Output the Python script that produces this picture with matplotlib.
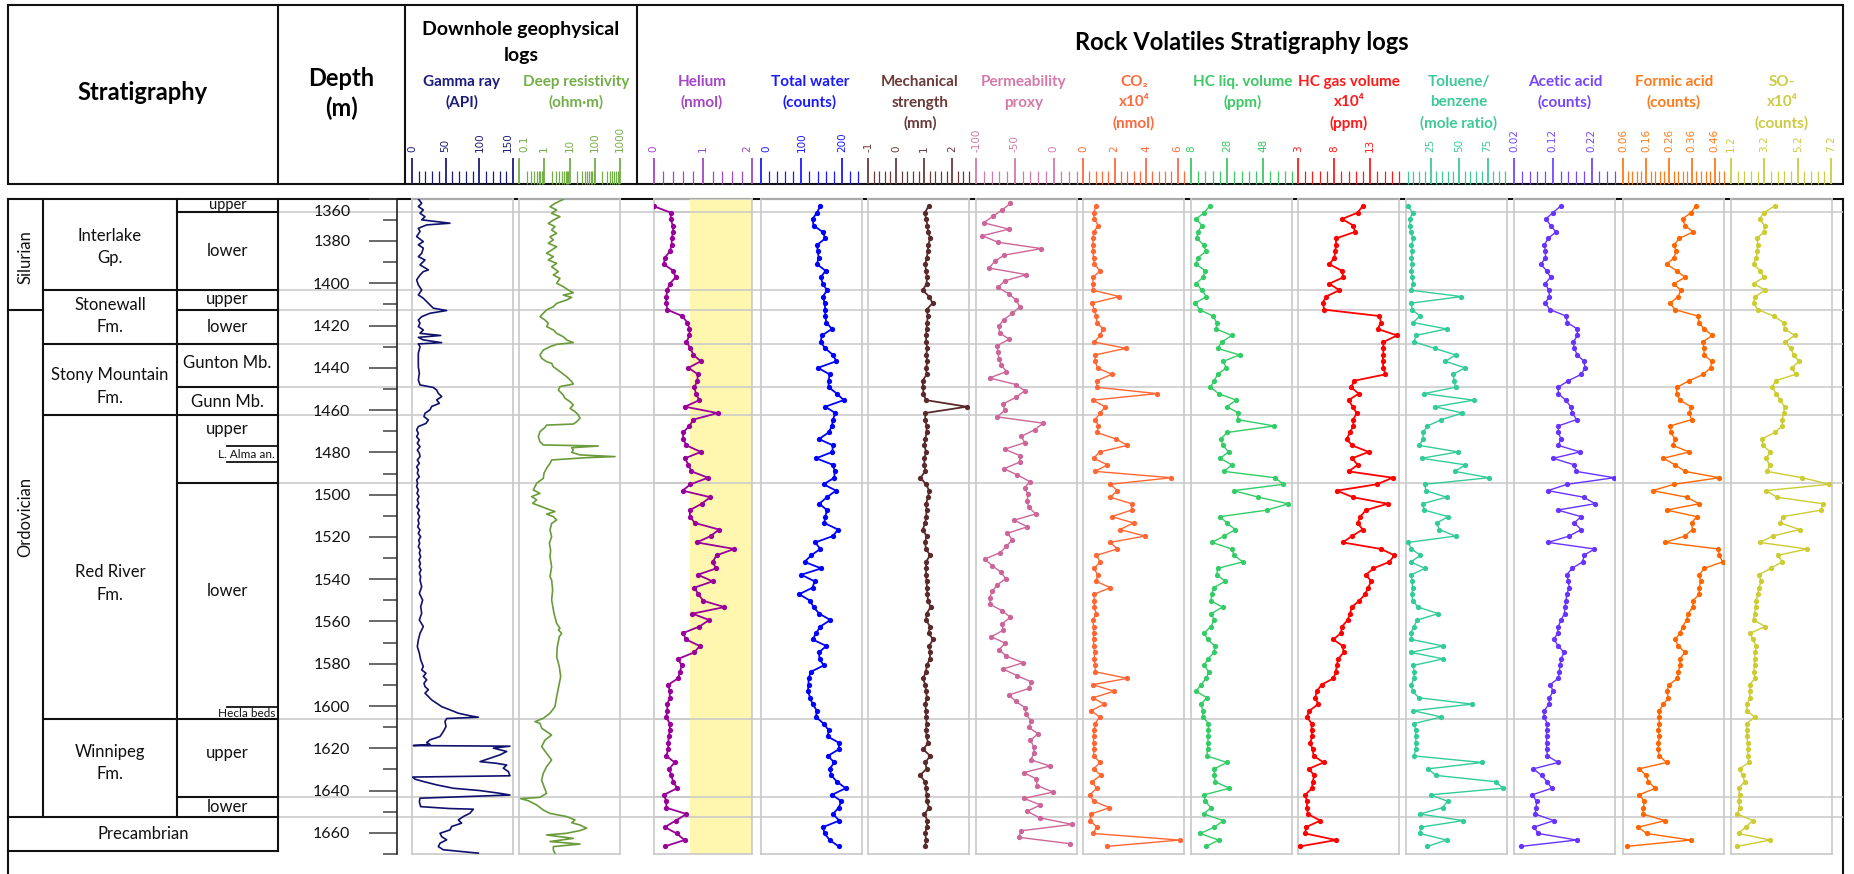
import matplotlib
matplotlib.use("Agg")
import matplotlib.pyplot as plt
from matplotlib.patches import Rectangle
from matplotlib.transforms import ScaledTranslation
from matplotlib.ticker import FixedLocator, FixedFormatter, MultipleLocator, LogLocator, NullFormatter

plt.rcParams['font.family'] = ['Lato', 'DejaVu Sans']

# ------------------------------------------------------------------ data
sample_depth = [
    1363.5, 1366.6, 1369.6, 1372.7, 1375.7, 1378.8, 1381.9, 1384.9, 1388.0, 1391.0,
    1394.1, 1397.2, 1400.2, 1403.3, 1406.3, 1409.4, 1412.5, 1415.5, 1418.6, 1421.6,
    1424.7, 1427.8, 1430.8, 1433.9, 1436.9, 1440.0, 1443.1, 1446.1, 1449.2, 1452.2,
    1455.3, 1458.4, 1461.4, 1464.5, 1467.5, 1470.6, 1473.7, 1476.7, 1479.8, 1482.8,
    1485.9, 1489.0, 1492.0, 1495.1, 1498.1, 1501.2, 1504.3, 1507.3, 1510.4, 1513.4,
    1516.5, 1519.6, 1522.6, 1525.7, 1528.7, 1531.8, 1534.9, 1537.9, 1541.0, 1544.0,
    1547.1, 1550.2, 1553.2, 1556.3, 1559.3, 1562.4, 1565.5, 1568.5, 1571.6, 1574.6,
    1577.7, 1580.8, 1583.8, 1586.9, 1589.9, 1593.0, 1596.1, 1599.1, 1602.2, 1605.2,
    1608.3, 1611.4, 1614.4, 1617.5, 1620.5, 1623.6, 1626.7, 1629.7, 1632.8, 1635.8,
    1638.9, 1642.0, 1645.0, 1648.1, 1651.1, 1654.2, 1657.3, 1660.3, 1663.4, 1666.4]
perm_depth_shift = -1.3

helium = [
    0.00, 0.35, 0.35, 0.39, 0.40, 0.37, 0.37, 0.33, 0.23, 0.21,
    0.40, 0.45, 0.33, 0.28, 0.26, 0.26, 0.28, 0.58, 0.69, 0.73,
    0.73, 0.67, 0.75, 0.81, 0.96, 0.71, 0.90, 0.89, 0.83, 0.86,
    0.93, 0.64, 1.30, 0.81, 0.73, 0.60, 0.60, 0.67, 0.96, 0.64,
    0.71, 0.77, 1.11, 0.75, 0.59, 1.15, 0.98, 0.74, 0.74, 0.84,
    1.33, 1.16, 0.88, 1.64, 1.28, 1.20, 1.27, 0.90, 1.20, 0.83,
    0.91, 1.01, 1.44, 0.79, 1.13, 0.93, 0.60, 0.66, 0.94, 0.83,
    0.50, 0.57, 0.54, 0.50, 0.30, 0.33, 0.33, 0.28, 0.28, 0.26,
    0.33, 0.33, 0.31, 0.30, 0.30, 0.26, 0.43, 0.32, 0.36, 0.40,
    0.48, 0.21, 0.26, 0.26, 0.67, 0.45, 0.23, 0.47, 0.63, 0.23]
helium_window = [0.75, 2.0]

total_water = [
    146.7, 138.4, 127.6, 130.0, 152.5, 159.1, 138.4, 140.9, 142.5, 138.4,
    160.0, 147.5, 153.3, 163.2, 153.3, 157.4, 159.1, 159.1, 161.6, 175.6,
    150.8, 147.5, 159.1, 178.1, 186.4, 140.9, 169.9, 167.4, 167.4, 188.0,
    204.6, 159.1, 183.9, 178.1, 175.6, 167.4, 143.4, 178.1, 176.4, 136.7,
    178.1, 182.3, 181.4, 155.0, 185.5, 163.2, 144.2, 163.2, 159.1, 156.6,
    190.5, 178.1, 134.2, 146.7, 124.3, 107.8, 149.1, 99.5, 132.6, 127.6,
    94.5, 121.8, 130.0, 144.2, 171.5, 146.7, 136.7, 127.6, 161.6, 143.4,
    145.0, 155.0, 123.5, 117.7, 117.7, 116.0, 121.8, 127.6, 138.4, 135.9,
    155.0, 167.4, 164.9, 193.8, 192.2, 165.7, 181.4, 169.9, 174.0, 188.0,
    209.5, 175.6, 198.8, 192.2, 178.1, 193.8, 153.3, 157.4, 169.9, 192.2]

mech_strength = [
    1.16, 1.03, 1.07, 1.12, 1.14, 1.22, 1.14, 1.14, 1.09, 1.04,
    1.07, 1.10, 1.09, 0.95, 1.18, 1.30, 1.09, 1.14, 1.10, 1.09,
    1.07, 1.07, 1.12, 1.07, 1.12, 1.07, 1.09, 0.95, 0.97, 0.97,
    1.07, 2.52, 1.04, 1.04, 1.09, 1.09, 1.04, 1.01, 1.07, 1.01,
    1.01, 1.04, 0.87, 1.07, 1.18, 1.14, 1.07, 1.09, 1.07, 1.04,
    0.95, 1.09, 1.03, 1.07, 1.21, 1.07, 1.07, 1.07, 1.09, 1.10,
    1.12, 1.14, 1.23, 1.09, 1.07, 1.21, 1.16, 1.32, 1.18, 1.21,
    1.21, 1.09, 1.07, 0.96, 1.04, 1.07, 1.10, 1.04, 1.07, 1.07,
    1.09, 1.07, 1.09, 1.14, 0.97, 1.22, 1.04, 1.09, 0.85, 1.04,
    1.07, 1.09, 1.09, 1.18, 1.01, 1.12, 1.09, 1.04, 1.07, 1.04]

permeability = [
    -55.8, -66.1, -78.1, -90.2, -57.5, -91.9, -71.7, -15.7, -63.9, -76.0,
    -83.3, -35.1, -63.1, -71.7, -57.9, -48.0, -43.7, -53.2, -64.4, -70.8,
    -69.5, -57.5, -72.6, -71.7, -70.8, -67.4, -60.9, -82.5, -48.9, -37.3,
    -48.9, -65.2, -63.1, -72.6, -13.7, -24.4, -41.6, -37.3, -63.1, -43.7,
    -43.7, -63.9, -46.8, -30.8, -37.3, -33.0, -34.3, -32.2, -23.1, -51.0,
    -33.8, -59.7, -53.2, -60.9, -68.7, -88.9, -79.0, -68.3, -61.8, -72.6,
    -79.4, -82.5, -81.6, -66.1, -55.8, -66.5, -65.2, -80.3, -62.2, -70.4,
    -60.9, -39.4, -65.2, -47.2, -28.7, -32.2, -57.5, -48.9, -36.4, -36.0,
    -28.7, -32.2, -20.1, -30.0, -25.7, -25.3, -29.5, -5.0, -38.6, -22.2,
    -21.4, -0.8, -38.1, -17.0, -34.3, -17.9, 24.2, -41.6, -45.0, 20.8]

co2 = [
    0.84, 0.67, 0.71, 0.98, 0.67, 0.63, 0.63, 0.63, 0.67, 0.71,
    1.09, 0.63, 0.63, 0.63, 2.30, 0.56, 0.71, 0.84, 0.88, 1.26,
    1.09, 0.71, 2.72, 0.77, 0.77, 0.92, 1.82, 0.88, 0.88, 4.69,
    0.63, 1.40, 1.09, 0.77, 0.98, 0.88, 2.09, 2.81, 1.05, 0.67,
    1.55, 0.77, 5.60, 1.72, 2.18, 1.72, 3.08, 3.08, 1.82, 3.20,
    2.35, 3.92, 1.72, 2.18, 0.84, 1.09, 0.71, 0.92, 0.84, 1.72,
    0.71, 0.71, 0.71, 0.84, 0.63, 0.67, 0.67, 0.67, 0.67, 0.73,
    0.71, 0.77, 0.77, 2.81, 0.63, 1.97, 0.63, 1.34, 0.52, 1.05,
    0.77, 0.71, 0.67, 0.67, 0.71, 0.67, 1.09, 0.67, 1.13, 0.56,
    0.88, 0.42, 0.67, 1.67, 0.50, 0.46, 0.88, 0.63, 6.12, 1.51]

hc_liquid = [
    18.3, 15.3, 10.9, 14.1, 11.7, 11.3, 15.0, 16.3, 11.7, 10.9,
    15.9, 14.6, 10.9, 14.1, 16.5, 10.4, 12.8, 20.1, 22.3, 22.0,
    30.6, 25.1, 22.7, 34.9, 26.0, 27.5, 22.7, 20.9, 18.7, 23.3,
    33.0, 27.9, 34.3, 33.8, 54.2, 27.9, 24.6, 25.7, 28.8, 24.2,
    30.6, 26.4, 54.6, 59.2, 31.6, 45.4, 61.9, 50.3, 24.2, 27.9,
    32.5, 26.4, 19.6, 30.6, 31.9, 36.7, 22.7, 22.3, 27.0, 20.5,
    19.6, 19.0, 25.5, 19.2, 20.9, 19.0, 15.3, 17.2, 21.1, 20.9,
    17.4, 15.3, 17.9, 16.5, 13.5, 10.9, 16.8, 13.5, 14.6, 14.6,
    17.7, 17.7, 17.4, 17.4, 17.2, 16.8, 27.9, 20.9, 20.9, 21.4,
    29.3, 15.3, 15.9, 19.0, 15.0, 26.0, 20.9, 13.1, 23.3, 16.5]

hc_gas = [
    11.96, 11.27, 9.10, 10.67, 10.90, 8.27, 8.27, 8.17, 8.03, 7.34,
    9.10, 9.28, 7.34, 8.73, 6.88, 6.42, 6.65, 14.28, 14.51, 14.04,
    16.73, 14.83, 14.83, 14.83, 14.74, 14.83, 15.11, 10.81, 10.35, 11.41,
    10.02, 10.58, 11.13, 10.67, 10.67, 10.21, 9.74, 10.49, 12.80, 10.49,
    11.27, 10.02, 16.12, 13.95, 8.40, 10.58, 15.43, 12.43, 11.64, 11.27,
    11.96, 10.49, 9.19, 14.51, 16.36, 15.66, 13.44, 12.43, 13.12, 12.75,
    12.29, 11.50, 10.44, 10.21, 9.88, 9.10, 8.96, 7.90, 9.19, 9.33,
    8.59, 8.36, 8.27, 7.90, 6.28, 5.58, 5.40, 5.82, 4.57, 4.24,
    4.89, 4.89, 4.94, 4.71, 5.03, 5.17, 6.55, 4.47, 5.26, 5.03,
    4.94, 4.01, 4.24, 4.24, 4.38, 6.09, 4.10, 4.01, 8.27, 3.27]

toluene_benzene = [
    5.4, 9.2, 6.9, 6.9, 7.5, 9.8, 8.3, 8.9, 8.3, 8.9,
    8.3, 8.9, 9.8, 7.7, 52.1, 8.3, 8.9, 15.6, 9.8, 39.0,
    12.1, 10.7, 28.8, 46.9, 38.1, 55.0, 44.8, 45.7, 46.9, 19.4,
    62.9, 28.8, 53.0, 34.6, 22.3, 18.5, 18.5, 15.0, 49.2, 17.1,
    55.6, 46.3, 76.3, 20.0, 20.9, 39.0, 18.0, 19.4, 40.4, 30.5,
    32.6, 46.9, 5.4, 8.3, 16.2, 7.7, 20.0, 8.3, 8.9, 9.2,
    8.9, 9.2, 14.2, 31.7, 13.3, 10.4, 7.7, 8.3, 36.1, 7.7,
    36.1, 9.8, 10.7, 10.4, 8.3, 9.2, 14.8, 61.5, 9.8, 34.6,
    10.4, 12.1, 12.1, 12.1, 12.1, 10.4, 70.2, 22.9, 29.4, 82.2,
    88.3, 25.0, 39.9, 35.5, 15.6, 53.6, 16.5, 15.6, 39.0, 22.3]

acetic_acid = [
    0.140, 0.120, 0.102, 0.114, 0.128, 0.108, 0.098, 0.101, 0.101, 0.089,
    0.104, 0.114, 0.100, 0.110, 0.111, 0.100, 0.113, 0.154, 0.157, 0.183,
    0.183, 0.173, 0.175, 0.183, 0.200, 0.203, 0.193, 0.160, 0.134, 0.134,
    0.153, 0.166, 0.170, 0.181, 0.134, 0.134, 0.141, 0.134, 0.190, 0.121,
    0.175, 0.180, 0.278, 0.157, 0.107, 0.199, 0.229, 0.132, 0.193, 0.175,
    0.193, 0.162, 0.108, 0.227, 0.200, 0.197, 0.169, 0.156, 0.160, 0.162,
    0.156, 0.154, 0.151, 0.150, 0.141, 0.134, 0.132, 0.123, 0.134, 0.149,
    0.141, 0.138, 0.137, 0.134, 0.113, 0.121, 0.111, 0.110, 0.098, 0.097,
    0.106, 0.104, 0.104, 0.104, 0.104, 0.106, 0.134, 0.070, 0.091, 0.105,
    0.117, 0.067, 0.078, 0.077, 0.074, 0.123, 0.071, 0.083, 0.181, 0.038]

formic_acid = [
    0.378, 0.355, 0.320, 0.330, 0.366, 0.305, 0.282, 0.291, 0.282, 0.250,
    0.294, 0.330, 0.282, 0.311, 0.301, 0.265, 0.287, 0.385, 0.392, 0.413,
    0.449, 0.407, 0.413, 0.413, 0.446, 0.442, 0.410, 0.349, 0.294, 0.294,
    0.308, 0.356, 0.349, 0.359, 0.265, 0.268, 0.287, 0.276, 0.349, 0.236,
    0.287, 0.330, 0.479, 0.282, 0.189, 0.337, 0.392, 0.250, 0.381, 0.359,
    0.363, 0.330, 0.243, 0.475, 0.479, 0.494, 0.414, 0.392, 0.398, 0.392,
    0.391, 0.366, 0.363, 0.344, 0.337, 0.320, 0.308, 0.287, 0.301, 0.330,
    0.308, 0.308, 0.301, 0.297, 0.262, 0.250, 0.258, 0.236, 0.218, 0.217,
    0.218, 0.214, 0.218, 0.214, 0.214, 0.218, 0.250, 0.131, 0.160, 0.171,
    0.200, 0.131, 0.153, 0.149, 0.146, 0.243, 0.127, 0.163, 0.355, 0.076]

so_x1e4 = [
    3.81, 3.17, 2.91, 3.21, 3.17, 2.75, 2.81, 2.77, 2.71, 2.55,
    2.95, 3.17, 2.55, 3.25, 2.65, 2.55, 2.81, 3.75, 4.35, 4.41,
    5.01, 4.45, 4.77, 4.95, 5.27, 4.85, 5.07, 3.87, 3.67, 3.91,
    4.15, 4.41, 4.35, 4.27, 4.27, 3.81, 3.05, 3.11, 3.55, 3.31,
    3.51, 3.37, 5.47, 7.10, 3.31, 3.95, 6.70, 6.61, 4.31, 4.15,
    5.31, 3.71, 2.91, 5.75, 4.01, 4.27, 3.57, 2.87, 3.01, 2.87,
    2.81, 2.71, 2.67, 2.61, 2.55, 3.25, 2.35, 2.51, 2.71, 2.65,
    2.61, 2.61, 2.57, 2.65, 2.31, 2.35, 2.31, 2.17, 2.15, 2.61,
    2.15, 2.15, 2.15, 2.21, 2.21, 2.21, 2.27, 1.71, 1.91, 2.01,
    1.67, 1.71, 1.67, 1.71, 1.58, 2.51, 2.07, 1.66, 3.55, 1.56]

gamma_depth = [
    1360.1, 1362.2, 1363.7, 1365.3, 1366.9, 1368.5, 1370.0, 1371.6, 1372.4, 1374.0,
    1375.5, 1377.9, 1380.3, 1381.8, 1383.4, 1385.8, 1387.4, 1389.0, 1391.3, 1393.7,
    1394.5, 1396.1, 1398.4, 1400.8, 1403.2, 1405.5, 1407.1, 1408.7, 1410.3, 1411.8,
    1412.9, 1414.2, 1415.8, 1417.4, 1418.9, 1420.5, 1422.1, 1423.7, 1424.7, 1425.6,
    1426.8, 1428.1, 1428.7, 1430.0, 1433.1, 1436.3, 1439.5, 1442.6, 1445.8, 1448.1,
    1449.3, 1450.5, 1452.1, 1453.6, 1455.2, 1456.8, 1458.3, 1459.9, 1461.5, 1463.1,
    1464.7, 1466.3, 1467.8, 1469.4, 1471.0, 1472.6, 1474.1, 1475.7, 1477.3, 1478.9,
    1480.4, 1482.0, 1483.6, 1485.2, 1486.8, 1488.3, 1489.9, 1491.5, 1493.1, 1494.6,
    1496.2, 1497.8, 1499.4, 1500.9, 1502.5, 1504.1, 1505.7, 1507.3, 1508.8, 1510.4,
    1512.0, 1513.6, 1515.2, 1516.7, 1518.3, 1519.9, 1521.5, 1523.0, 1524.6, 1526.2,
    1527.7, 1529.3, 1530.9, 1532.5, 1534.1, 1535.6, 1537.2, 1538.8, 1540.4, 1543.6,
    1546.7, 1549.9, 1553.0, 1556.1, 1559.3, 1562.4, 1565.6, 1568.7, 1571.9, 1575.0,
    1578.2, 1581.3, 1582.9, 1584.5, 1586.0, 1587.6, 1589.2, 1590.8, 1592.3, 1593.9,
    1595.5, 1597.1, 1598.7, 1600.3, 1601.8, 1603.4, 1604.6, 1605.3, 1605.9, 1607.3,
    1609.7, 1612.1, 1614.4, 1616.0, 1617.3, 1618.2, 1618.7, 1619.0, 1619.9, 1621.5,
    1623.1, 1624.7, 1626.3, 1627.1, 1627.9, 1629.4, 1631.0, 1633.0, 1633.6, 1634.6,
    1635.7, 1637.3, 1638.9, 1640.0, 1641.3, 1642.1, 1642.8, 1643.6, 1645.2, 1647.6,
    1648.5, 1648.8, 1650.7, 1652.3, 1653.9, 1655.4, 1657.0, 1658.6, 1660.2, 1661.8,
    1663.3, 1664.9, 1666.5, 1668.0, 1669.6]
gamma_api = [
    9.4, 14.4, 9.4, 16.8, 11.9, 19.3, 14.4, 56.4, 21.8, 9.4,
    11.9, 6.9, 16.8, 9.4, 16.8, 14.4, 9.4, 19.3, 11.9, 24.3,
    16.8, 11.9, 6.9, 9.4, 14.4, 9.4, 16.8, 21.8, 26.7, 31.7,
    51.5, 26.7, 14.4, 9.4, 11.9, 9.4, 16.8, 11.9, 42.6, 9.4,
    16.8, 44.1, 9.4, 11.9, 9.4, 9.4, 9.4, 10.9, 9.4, 11.9,
    31.7, 36.6, 39.1, 44.1, 36.6, 40.6, 29.2, 26.7, 19.3, 17.8,
    24.3, 20.8, 9.4, 6.9, 9.4, 6.9, 10.9, 7.9, 11.9, 7.9,
    10.9, 11.9, 7.9, 10.9, 6.9, 9.4, 7.9, 10.9, 6.9, 8.4,
    6.9, 9.4, 7.4, 10.4, 7.9, 9.9, 6.9, 10.9, 8.4, 11.4,
    8.9, 10.4, 8.4, 11.9, 9.4, 12.9, 9.9, 11.4, 9.4, 12.4,
    10.9, 12.9, 10.4, 12.4, 10.9, 13.4, 10.9, 12.9, 11.9, 14.4,
    10.9, 15.8, 12.9, 14.4, 10.9, 16.8, 11.9, 9.4, 7.9, 10.9,
    12.9, 16.8, 14.4, 20.8, 16.8, 21.8, 17.8, 19.3, 24.3, 19.3,
    24.3, 29.2, 36.6, 44.1, 56.4, 68.8, 86.1, 98.5, 51.5, 49.0,
    50.5, 46.5, 41.6, 26.7, 21.8, 26.7, 2.0, 145.5, 120.8, 140.6,
    130.7, 115.8, 101.0, 125.7, 140.6, 135.6, 143.1, 145.5, 1.0, 4.5,
    16.8, 36.6, 61.4, 101.0, 130.7, 145.5, 81.2, 11.9, 10.9, 12.9,
    56.4, 91.1, 86.1, 76.2, 68.8, 73.7, 58.9, 56.4, 41.6, 44.1,
    51.5, 41.6, 39.1, 46.5, 98.5]

resistivity_depth = [
    1360.3, 1362.2, 1363.8, 1365.3, 1366.9, 1368.5, 1370.1, 1371.7, 1373.2, 1374.8,
    1376.4, 1378.0, 1379.5, 1381.1, 1382.7, 1384.3, 1385.8, 1387.4, 1389.0, 1390.6,
    1392.2, 1394.5, 1396.1, 1397.7, 1400.0, 1401.6, 1403.2, 1404.5, 1405.6, 1406.7,
    1407.9, 1409.5, 1411.1, 1412.6, 1414.2, 1415.8, 1417.4, 1419.0, 1420.5, 1422.1,
    1423.7, 1425.3, 1426.8, 1428.1, 1428.9, 1430.0, 1431.6, 1433.9, 1435.5, 1437.1,
    1437.9, 1439.5, 1441.8, 1444.2, 1446.5, 1447.7, 1448.9, 1450.5, 1452.9, 1454.4,
    1456.0, 1457.6, 1459.2, 1460.7, 1462.3, 1463.9, 1465.5, 1466.6, 1467.1, 1468.2,
    1470.2, 1472.6, 1475.0, 1476.5, 1477.0, 1477.8, 1478.9, 1480.0, 1481.2, 1482.0,
    1482.5, 1483.6, 1485.2, 1487.5, 1489.9, 1492.3, 1494.6, 1496.2, 1497.8, 1499.4,
    1500.9, 1502.5, 1504.1, 1505.7, 1506.9, 1508.0, 1509.2, 1510.4, 1512.0, 1513.6,
    1516.7, 1519.9, 1523.0, 1526.2, 1529.3, 1534.1, 1538.8, 1540.4, 1545.1, 1549.8,
    1556.1, 1560.9, 1563.2, 1564.0, 1565.6, 1567.2, 1571.9, 1576.6, 1581.4, 1586.1,
    1590.8, 1595.6, 1600.3, 1603.4, 1605.8, 1607.4, 1608.2, 1610.5, 1613.7, 1616.1,
    1619.2, 1622.4, 1625.5, 1628.7, 1631.8, 1635.0, 1638.1, 1641.3, 1643.2, 1643.8,
    1644.8, 1646.8, 1649.2, 1650.8, 1652.3, 1653.9, 1655.2, 1656.3, 1657.8, 1658.9,
    1660.2, 1661.0, 1662.6, 1664.1, 1665.3, 1666.5, 1668.1, 1669.7]
resistivity_ohmm = [
    5.69, 2.66, 1.69, 3.10, 1.96, 4.20, 2.29, 1.45, 2.66, 1.96,
    3.10, 1.69, 2.29, 1.45, 3.10, 1.96, 1.24, 2.29, 1.45, 3.10,
    1.96, 3.61, 2.29, 4.20, 3.10, 5.69, 8.99, 14.2, 5.69, 12.2,
    7.72, 3.10, 2.29, 1.24, 0.918, 0.678, 1.07, 1.45, 1.24, 2.29,
    3.10, 5.69, 7.72, 14.2, 3.10, 1.69, 0.918, 0.678, 0.789, 1.24,
    1.96, 2.29, 4.20, 7.72, 12.2, 14.2, 4.20, 3.61, 5.69, 6.62,
    10.5, 14.2, 10.5, 16.5, 22.4, 26.1, 19.2, 14.2, 1.24, 1.07,
    0.678, 0.582, 0.678, 0.918, 139.0, 12.2, 14.2, 12.2, 26.1, 634.0,
    47.9, 1.96, 1.69, 1.24, 0.977, 0.918, 0.500, 0.430, 0.369, 0.678,
    0.317, 0.500, 0.347, 0.789, 1.45, 2.66, 1.24, 2.29, 3.10, 1.96,
    1.69, 1.96, 1.59, 1.79, 1.69, 1.96, 1.69, 1.96, 2.15, 1.96,
    2.43, 3.10, 4.20, 3.61, 4.89, 3.95, 3.30, 3.10, 3.95, 4.47,
    3.72, 3.10, 2.66, 1.69, 0.918, 0.430, 0.678, 0.789, 1.96, 1.07,
    0.789, 1.24, 1.96, 1.24, 0.918, 0.789, 0.977, 1.24, 0.678, 0.116,
    0.234, 0.500, 0.918, 1.69, 7.72, 16.5, 12.2, 26.1, 47.9, 26.1,
    7.72, 1.24, 14.2, 1.69, 26.1, 2.29, 2.29, 2.66]

# stratigraphy (depths in m)
unit_boundaries = [1366.3, 1403.2, 1412.6, 1428.9, 1448.9, 1462.5, 1494.6, 1606.3, 1643.2, 1652.3]
period_boundary = 1412.6
precambrian_top, precambrian_base = 1652.3, 1668.4
alma_top, alma_base = 1477.0, 1484.6
hecla_top = 1600.3
formation_boundaries = [1403.2, 1428.9, 1462.5, 1606.3]
member_boundaries = [1366.3, 1412.6, 1448.9, 1494.6, 1643.2]

depth_major = [1360, 1380, 1400, 1420, 1440, 1460, 1480, 1500, 1520, 1540, 1560, 1580, 1600, 1620, 1640, 1660]
depth_minor = [1370, 1390, 1410, 1430, 1450, 1470, 1490, 1510, 1530, 1550, 1570, 1590, 1610, 1630, 1650, 1670]

# ------------------------------------------------------------------ layout
W, H, DPI = 1854, 874, 100
fig = plt.figure(figsize=(W / DPI, H / DPI), dpi=DPI)
fig.patch.set_facecolor('white')
Y_TOP, Y_BOT = 198.7, 854.0
D_TOP, D_BOT = 1360.0, 1670.0
GRID = '#c8c8c8'


def add_ax(x0, y0, x1, y1, **kw):
    return fig.add_axes([x0 / W, 1 - y1 / H, (x1 - x0) / W, (y1 - y0) / H], **kw)


bg = add_ax(0, 0, W, H, zorder=0)
bg.set_xlim(0, W)
bg.set_ylim(H, 0)
bg.axis('off')

BLK = dict(color='#111111', lw=1.5, solid_capstyle='projecting')
bg.add_patch(Rectangle((8, 5), 1835, 179, fill=False, ec='#111111', lw=1.5))
for x in (278, 405, 637):
    bg.plot([x, x], [5, 184], **BLK)
bg.plot([8, 1843], [Y_TOP, Y_TOP], **BLK)
bg.plot([8, 8], [Y_TOP, H], **BLK)
bg.plot([1843, 1843], [Y_TOP, H], **BLK)

# gray unit boundary lines across depth column & tracks
gl = add_ax(278, Y_TOP, 1843, Y_BOT, zorder=0.5)
gl.set_xlim(0, 1)
gl.set_ylim(D_BOT, D_TOP)
gl.axis('off')
for d in unit_boundaries:
    gl.axhline(d, color=GRID, lw=1.1)

# big header texts
HB = dict(ha='center', va='center', fontweight='bold', color='black')
bg.text(143, 92, 'Stratigraphy', fontsize=17, **HB)
bg.text(341.5, 79, 'Depth', fontsize=17, **HB)
bg.text(341.5, 108, '(m)', fontsize=17, **HB)
bg.text(521, 29, 'Downhole geophysical', fontsize=14, **HB)
bg.text(521, 56, 'logs', fontsize=14, **HB)
bg.text(1242, 42, 'Rock Volatiles Stratigraphy logs', fontsize=17, **HB)

# ------------------------------------------------------------------ stratigraphy column
st = add_ax(8, Y_TOP, 278, Y_BOT, zorder=3)
st.set_xlim(8, 278)
st.set_ylim(D_BOT, D_TOP)
st.axis('off')
SL = dict(color='#111111', lw=1.5, solid_capstyle='projecting', clip_on=False)
st.plot([43, 43], [D_TOP, precambrian_top], **SL)
st.plot([177, 177], [D_TOP, precambrian_top], **SL)
st.plot([278, 278], [D_TOP, precambrian_base], **SL)
st.plot([8, 43], [period_boundary, period_boundary], **SL)
for d in formation_boundaries:
    st.plot([43, 278], [d, d], **SL)
for d in member_boundaries:
    st.plot([177, 278], [d, d], **SL)
st.plot([8, 278], [precambrian_top, precambrian_top], **SL)
st.plot([8, 278], [precambrian_base, precambrian_base], **SL)
for d in (alma_top, alma_base, hecla_top):
    st.plot([227, 278], [d, d], color='#111111', lw=1.3, clip_on=False)

ST = dict(ha='center', va='center', color='#111111')
bg.text(25.5, 257, 'Silurian', rotation=90, fontsize=12, **ST)
bg.text(25.5, 517, 'Ordovician', rotation=90, fontsize=12, **ST)
for (y, s) in [(236, 'Interlake'), (258, 'Gp.'), (305, 'Stonewall'), (327, 'Fm.'),
               (375, 'Stony Mountain'), (398, 'Fm.'), (572, 'Red River'), (595, 'Fm.'),
               (752, 'Winnipeg'), (774, 'Fm.')]:
    bg.text(110, y, s, fontsize=12, **ST)
bg.text(143, 834, 'Precambrian', fontsize=12, **ST)
for (y, s) in [(205, 'upper'), (251, 'lower'), (299, 'upper'), (327, 'lower'),
               (363, 'Gunton Mb.'), (402, 'Gunn Mb.'), (429, 'upper'), (591, 'lower'),
               (753, 'upper'), (807, 'lower')]:
    bg.text(227.5, y, s, fontsize=12 if s != 'upper' or y != 205 else 10.5, **ST)
bg.text(246.5, 454, 'L. Alma an.', fontsize=8.5, **ST)
bg.text(247, 713.5, 'Hecla beds', fontsize=8.5, **ST)

# ------------------------------------------------------------------ depth axis
dax = add_ax(397, Y_TOP, 398, Y_BOT, zorder=3)
dax.set_facecolor('none')
dax.set_ylim(D_BOT, D_TOP)
for s in ('top', 'right', 'bottom'):
    dax.spines[s].set_visible(False)
dax.spines['left'].set_linewidth(1.2)
dax.spines['left'].set_color('#222222')
dax.set_xticks([])
dax.set_yticks(depth_major)
dax.set_yticklabels([str(v) for v in depth_major])
dax.set_yticks(depth_minor, minor=True)
dax.tick_params(axis='y', which='major', length=20, width=1.1, color='#404040',
                pad=13.5, labelsize=11.5, labelcolor='#111111')
dax.tick_params(axis='y', which='minor', length=10, width=1.1, color='#404040')
first_lab = dax.get_yticklabels()[0]
first_lab.set_transform(first_lab.get_transform() +
                        ScaledTranslation(0, -0.12, fig.dpi_scale_trans))

# ------------------------------------------------------------------ tracks
tracks = [
    dict(x=(412, 513), lim=(0, 150), major=[0, 50, 100, 150], minor=10,
         lab=['0', '50', '100', '150'], col='#10106e', tcol='#1c1c7c',
         title=['Gamma ray', '(API)'], cx=462, edge='right'),
    dict(x=(519, 620), lim=(0.1, 1000), log=True, major=[0.1, 1, 10, 100, 1000],
         lab=['0.1', '1', '10', '100', '1000'], col='#6a9b3a', tcol='#74ae48',
         title=['Deep resistivity', '(ohm\u00b7m)'], cx=576, edge='left'),
    dict(x=(653.5, 752), lim=(0, 2), major=[0, 1, 2], minor=0.2, lab=['0', '1', '2'],
         col='#990099', tcol='#a547c4', title=['Helium', '(nmol)'], cx=702, edge='right'),
    dict(x=(761, 862), lim=(0, 250), major=[0, 100, 200], minor=20, lab=['0', '100', '200'],
         col='#0000ff', tcol='#1a1aff', title=['Total water', '(counts)'], cx=810, edge='left'),
    dict(x=(868, 969), lim=(-1, 2.6), major=[-1, 0, 1, 2], minor=0.2, lab=['-1', '0', '1', '2'],
         col='#5a2a2a', tcol='#6b3a3a', title=['Mechanical', 'strength', '(mm)'], cx=920),
    dict(x=(976, 1077), lim=(-100, 30), major=[-100, -50, 0], minor=10, lab=['-100', '-50', '0'],
         col='#cc6699', tcol='#d47aa8', title=['Permeability', 'proxy'], cx=1024),
    dict(x=(1083, 1184), lim=(0, 6.4), major=[0, 2, 4, 6], minor=0.4, lab=['0', '2', '4', '6'],
         col='#ff6633', tcol='#ff6a3d', title=['CO\u2082', 'x10\u2074', '(nmol)'], cx=1134),
    dict(x=(1191, 1292), lim=(8, 64), major=[8, 28, 48], minor=4, lab=['8', '28', '48'],
         col='#33cc66', tcol='#3cc864', title=['HC liq. volume', '(ppm)'], cx=1243),
    dict(x=(1298, 1399), lim=(3, 17), major=[3, 8, 13], minor=1, lab=['3', '8', '13'],
         col='#ff0000', tcol='#ff1a1a', title=['HC gas volume', 'x10\u2074', '(ppm)'], cx=1349),
    dict(x=(1406, 1507), lim=(3.5, 92), major=[25, 50, 75], minor=5, lab=['25', '50', '75'],
         col='#33cc99', tcol='#40c898', title=['Toluene/', 'benzene', '(mole ratio)'], cx=1459),
    dict(x=(1514, 1615), lim=(0.02, 0.28), major=[0.02, 0.12, 0.22], minor=0.02,
         lab=['0.02', '0.12', '0.22'], col='#6633ff', tcol='#7447ff',
         title=['Acetic acid', '(counts)'], cx=1565),
    dict(x=(1623, 1724), lim=(0.06, 0.50), major=[0.06, 0.16, 0.26, 0.36, 0.46], minor=0.02,
         lab=['0.06', '0.16', '0.26', '0.36', '0.46'], col='#ff6600', tcol='#ff7a1a',
         title=['Formic acid', '(counts)'], cx=1674),
    dict(x=(1731, 1832), lim=(1.2, 7.25), major=[1.2, 3.2, 5.2, 7.2], minor=0.4,
         lab=['1.2', '3.2', '5.2', '7.2'], col='#cccc33', tcol='#cccc44',
         title=['SO-', 'x10\u2074', '(counts)'], cx=1782),
]

series = [
    (gamma_api, gamma_depth, False),
    (resistivity_ohmm, resistivity_depth, False),
    (helium, sample_depth, True),
    (total_water, sample_depth, True),
    (mech_strength, sample_depth, True),
    (permeability, [d + perm_depth_shift for d in sample_depth], True),
    (co2, sample_depth, True),
    (hc_liquid, sample_depth, True),
    (hc_gas, sample_depth, True),
    (toluene_benzene, sample_depth, True),
    (acetic_acid, sample_depth, True),
    (formic_acid, sample_depth, True),
    (so_x1e4, sample_depth, True),
]

for k, (tr, (vals, deps, pts)) in enumerate(zip(tracks, series)):
    x0, x1 = tr['x']
    is_log = tr.get('log', False)
    # track frame
    ax = add_ax(x0, Y_TOP, x1, Y_BOT, zorder=2)
    ax.set_facecolor('none')
    if is_log:
        ax.set_xscale('log')
    ax.set_xlim(*tr['lim'])
    ax.set_ylim(D_BOT, D_TOP)
    ax.set_xticks([])
    ax.set_yticks([])
    ax.minorticks_off()
    for s in ax.spines.values():
        s.set_color(GRID)
        s.set_linewidth(1.2)
    if k == 2:
        ax.axvspan(helium_window[0], helium_window[1], color='#fff6b0', lw=0, zorder=0.5)
        for d in unit_boundaries:
            ax.axhline(d, color=GRID, lw=1.1, zorder=0.8)
    if pts:
        thick = k in (2, 3, 4, 8)
        ax.plot(vals, deps, '-', color=tr['col'], lw=1.3 if thick else 1.0,
                marker='o', ms=3.8, mfc=tr['col'], mec=tr['col'], mew=0, zorder=3)
    else:
        ax.plot(vals, deps, '-', color=tr['col'], lw=1.2, zorder=3)

    # header scale
    hx = add_ax(x0, 184, x1, 185, zorder=3)
    hx.set_facecolor('none')
    if is_log:
        hx.set_xscale('log')
    hx.set_xlim(*tr['lim'])
    hx.set_ylim(0, 1)
    for s in hx.spines.values():
        s.set_visible(False)
    hx.set_yticks([])
    hx.xaxis.set_ticks_position('top')
    hx.xaxis.set_major_locator(FixedLocator(tr['major']))
    hx.xaxis.set_major_formatter(FixedFormatter(tr['lab']))
    if is_log:
        hx.xaxis.set_minor_locator(LogLocator(base=10, subs=[2, 3, 4, 5, 6, 7, 8, 9], numticks=20))
    else:
        hx.xaxis.set_minor_locator(MultipleLocator(tr['minor']))
    hx.xaxis.set_minor_formatter(NullFormatter())
    hx.tick_params(axis='x', which='major', direction='out', length=19, width=1.3,
                   color=tr['tcol'], labelcolor=tr['tcol'], pad=4, labelsize=7.5,
                   labelrotation=90, top=True, bottom=False, labeltop=True, labelbottom=False)
    hx.tick_params(axis='x', which='minor', direction='out', length=9.5, width=0.9,
                   color=tr['tcol'], top=True, bottom=False)
    labs = hx.get_xticklabels()
    for lab in labs:
        lab.set_fontfamily('DejaVu Sans')
    if tr.get('edge') == 'right':
        labs[-1].set_ha('right')
    elif tr.get('edge') == 'left':
        labs[0].set_ha('left')

    # header title
    for j, line in enumerate(tr['title']):
        bg.text(tr['cx'], 82 + 20.5 * j, line, ha='center', va='center', fontsize=11,
                fontweight='bold', color=tr['tcol'])

fig.savefig('out.png', dpi=DPI, facecolor='white')
